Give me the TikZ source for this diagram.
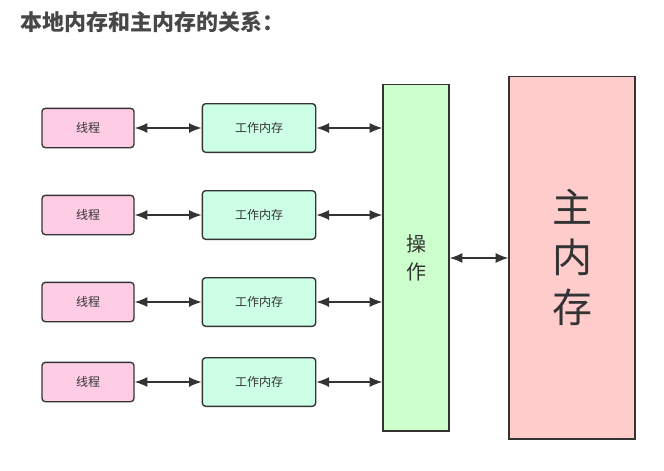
\documentclass[tikz,border=0pt]{standalone}
\usepackage{fontspec}
\setmainfont{Noto Sans CJK SC}
\usepackage{xcolor}
\definecolor{threadpink}{HTML}{FFCCE6}
\definecolor{workgreen}{HTML}{CCFFE6}
\definecolor{opgreen}{HTML}{CCFFCC}
\definecolor{mainred}{HTML}{FFCCCC}
\definecolor{edge}{HTML}{333333}
\usetikzlibrary{arrows.meta}
\begin{document}
\begin{tikzpicture}[x=0.75pt,y=-0.75pt,
  box/.style={draw=edge, line width=1pt, text=edge, inner sep=0pt},
  thread/.style={box, fill=threadpink, rounded corners=2.5pt, minimum width=69pt, minimum height=29.5pt, font=\fontsize{9}{11}\selectfont},
  work/.style={box, fill=workgreen, rounded corners=2.5pt, minimum width=85pt, minimum height=36.5pt, font=\fontsize{9}{11}\selectfont},
  link/.style={draw=edge, line width=1.1pt, {Latex[length=9.5pt,width=7.5pt]}-{Latex[length=9.5pt,width=7.5pt]}}]
  \useasboundingbox (0,0) rectangle (664,471);
  \node[anchor=west, text=black!72, font=\bfseries\fontsize{16.5}{20}\selectfont] (title) at (16,22) {本地内存和主内存的关系：};
  \node[box, fill=opgreen, minimum width=49.5pt, minimum height=260pt, align=center,
        font=\fontsize{15}{21}\selectfont] (op) at (416,257.5) {操\\作};
  \node[box, fill=mainred, minimum width=94.5pt, minimum height=272pt, align=center,
        font=\fontsize{30}{37.5}\selectfont] (main) at (572,257.5) {主\\内\\存};
  \foreach \y [count=\i] in {128,215,302,382}{
    \node[thread] (t\i) at (88,\y) {线程};
    \node[work] (w\i) at (259,\y) {工作内存};
    \draw[link] (t\i) -- (w\i);
    \draw[link] (w\i.east) -- (w\i.east -| op.west);
  }
  \draw[link] (op.east |- 0,258) -- (main.west |- 0,258);
\end{tikzpicture}
\end{document}
